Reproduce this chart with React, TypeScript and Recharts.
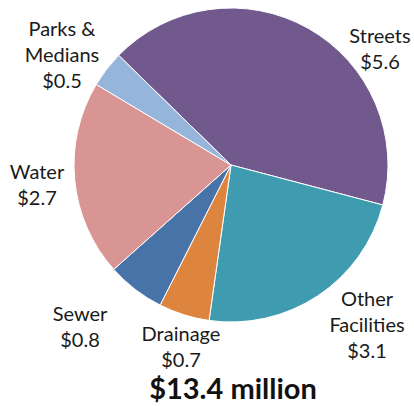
import { PieChart, Pie, Cell } from "recharts";

// Capital spending by category, $ millions
const categories = ["Streets", "Other Facilities", "Drainage", "Sewer", "Water", "Parks & Medians"];
const amounts = [5.6, 3.1, 0.7, 0.8, 2.7, 0.5];
const sliceColors = ["#71598e", "#3f9bb0", "#dd843f", "#4873a9", "#d99594", "#96b5da"];

// label text lines per slice (value line appended below)
const labelLines = [["Streets"], ["Other", "Facilities"], ["Drainage"], ["Sewer"], ["Water"], ["Parks &", "Medians"]];

// label offsets from the pie centre, first line
const labelOffsets: [number, number][] = [
  [149, -130],
  [136, 133],
  [-50, 168],
  [-151, 148],
  [-194, 6],
  [-169, -137],
];

const total = amounts.reduce((s, v) => s + v, 0);

const chartData = categories.map((name, i) => ({ name, value: amounts[i] }));

const FONT = "Lato, 'Open Sans', sans-serif";

const renderLabel = (props: any) => {
  const { cx, cy, index, value } = props;
  const [dx, dy] = labelOffsets[index];
  const lines = [...labelLines[index], `$${value.toFixed(1)}`];
  return (
    <text
      x={cx + dx}
      y={cy + dy}
      textAnchor="middle"
      dominantBaseline="central"
      fill="#1a1a1a"
      fontSize={20}
      fontFamily={FONT}
    >
      {lines.map((line, i) => (
        <tspan key={i} x={cx + dx} dy={i === 0 ? 0 : 26}>
          {line}
        </tspan>
      ))}
    </text>
  );
};

export default function App() {
  // run clockwise, with the first slice starting in the upper left
  const startAngle = 135.7;

  return (
    <div style={{ position: "absolute", left: 0, top: 0, width: 414, height: 406, background: "#fff" }}>
      <PieChart width={414} height={406} margin={{ top: 0, right: 0, bottom: 0, left: 0 }}>
        <Pie
          data={chartData}
          dataKey="value"
          nameKey="name"
          cx={231}
          cy={165}
          outerRadius={157}
          startAngle={startAngle}
          endAngle={startAngle - 360}
          stroke="#ffffff"
          strokeWidth={1}
          label={renderLabel}
          labelLine={false}
          isAnimationActive={false}
        >
          {chartData.map((entry, i) => (
            <Cell key={entry.name} fill={sliceColors[i]} />
          ))}
        </Pie>
      </PieChart>
      <div
        style={{
          position: "absolute",
          left: 0,
          width: 466,
          top: 371,
          textAlign: "center",
          fontFamily: FONT,
          fontWeight: 700,
          fontSize: 29,
          lineHeight: "34px",
          color: "#111",
        }}
      >
        ${total.toFixed(1)} million
      </div>
    </div>
  );
}
